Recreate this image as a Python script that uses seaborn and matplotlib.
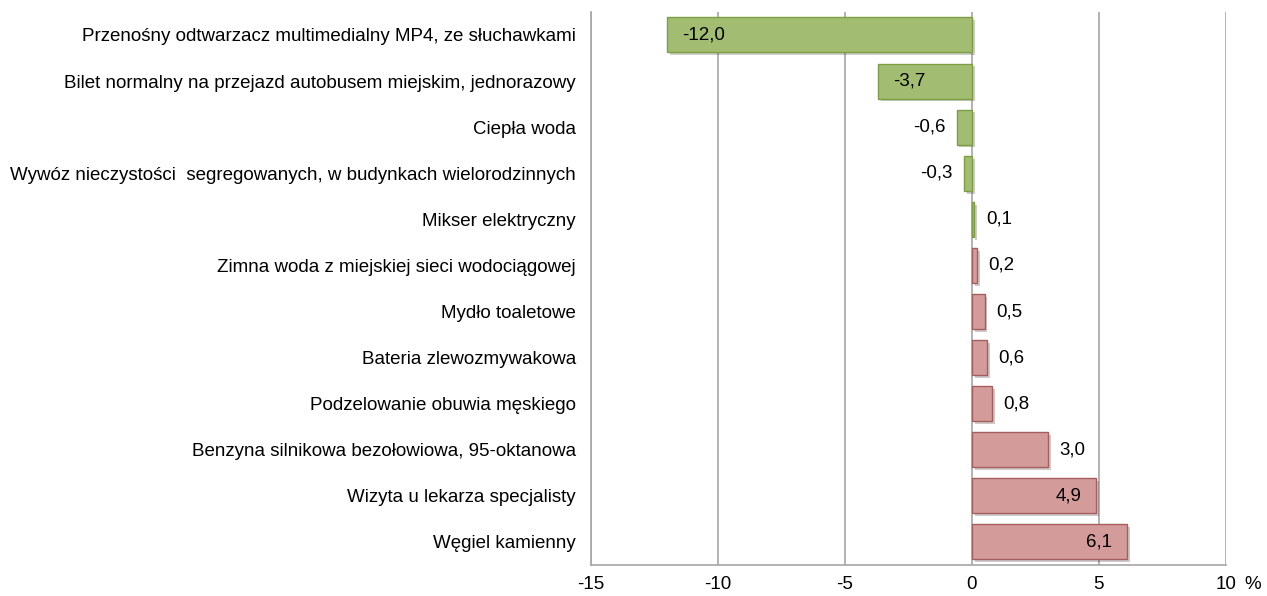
import matplotlib
matplotlib.use('Agg')
import matplotlib.pyplot as plt
import matplotlib.patheffects as pe
import seaborn as sns
import pandas as pd

# dane
categories = [
    'Przenośny odtwarzacz multimedialny MP4, ze słuchawkami',
    'Bilet normalny na przejazd autobusem miejskim, jednorazowy',
    'Ciepła woda',
    'Wywóz nieczystości  segregowanych, w budynkach wielorodzinnych',
    'Mikser elektryczny',
    'Zimna woda z miejskiej sieci wodociągowej',
    'Mydło toaletowe',
    'Bateria zlewozmywakowa',
    'Podzelowanie obuwia męskiego',
    'Benzyna silnikowa bezołowiowa, 95-oktanowa',
    'Wizyta u lekarza specjalisty',
    'Węgiel kamienny',
]
values = [-12.0, -3.7, -0.6, -0.3, 0.1, 0.2, 0.5, 0.6, 0.8, 3.0, 4.9, 6.1]
groups = ['spadek'] * 5 + ['wzrost'] * 7
x_ticks = [-15, -10, -5, 0, 5, 10]

df = pd.DataFrame({'kategoria': categories, 'zmiana': values, 'grupa': groups})

sns.set_style('white')
plt.rcParams['font.family'] = ['Liberation Sans', 'DejaVu Sans']
plt.rcParams['text.color'] = 'black'
plt.rcParams['xtick.color'] = 'black'
plt.rcParams['ytick.color'] = 'black'
FS = 13.5

fig = plt.figure(figsize=(12.67, 5.96), dpi=100)
ax = fig.add_axes([0.4665, 0.052, 0.501, 0.928])

palette = {'spadek': '#A6C964', 'wzrost': '#DD9391'}
edges = {'spadek': '#7E9E43', 'wzrost': '#A65E5C'}
sns.barplot(data=df, x='zmiana', y='kategoria', hue='grupa', palette=palette,
            dodge=False, orient='h', width=0.76, legend=False, ax=ax, zorder=3)

# obramowanie i cień słupków
for patch in ax.patches:
    w = patch.get_width()
    if w == 0 or patch.get_height() == 0:
        continue
    grp = 'spadek' if patch.get_facecolor()[1] > 0.7 else 'wzrost'
    patch.set_edgecolor(edges[grp])
    patch.set_linewidth(1.0)
    patch.set_path_effects([pe.SimplePatchShadow(offset=(2, -2), alpha=0.25), pe.Normal()])

# etykiety wartości
for i, v in enumerate(values):
    txt = f'{v:.1f}'.replace('.', ',')
    if abs(v) > 3.5:
        # wewnątrz słupka, przy końcu
        if v < 0:
            ax.text(v + 0.6, i, txt, ha='left', va='center', fontsize=FS, zorder=5)
        else:
            ax.text(v - 0.6, i, txt, ha='right', va='center', fontsize=FS, zorder=5)
    else:
        if v < 0:
            ax.text(v - 0.45, i, txt, ha='right', va='center', fontsize=FS, zorder=5)
        else:
            ax.text(v + 0.45, i, txt, ha='left', va='center', fontsize=FS, zorder=5)

ax.set_xlim(-15, 10)
ax.set_ylim(len(categories) - 0.5, -0.5)
ax.set_xticks(x_ticks)
ax.set_xticklabels([str(t) for t in x_ticks], fontsize=FS)
ax.tick_params(axis='y', labelsize=FS, pad=11, length=0)
ax.tick_params(axis='x', pad=8, length=0)
ax.set_xlabel('')
ax.set_ylabel('')

ax.grid(axis='x', color='#A6A6A6', linewidth=1.2, zorder=0)
ax.set_axisbelow(True)
for s in ['top', 'right']:
    ax.spines[s].set_visible(False)
for s in ['left', 'bottom']:
    ax.spines[s].set_color('#A6A6A6')
    ax.spines[s].set_linewidth(1.2)

ax.text(1.03, -0.035, '%', transform=ax.transAxes, ha='left', va='center', fontsize=FS)

fig.savefig('out.png', dpi=100)
